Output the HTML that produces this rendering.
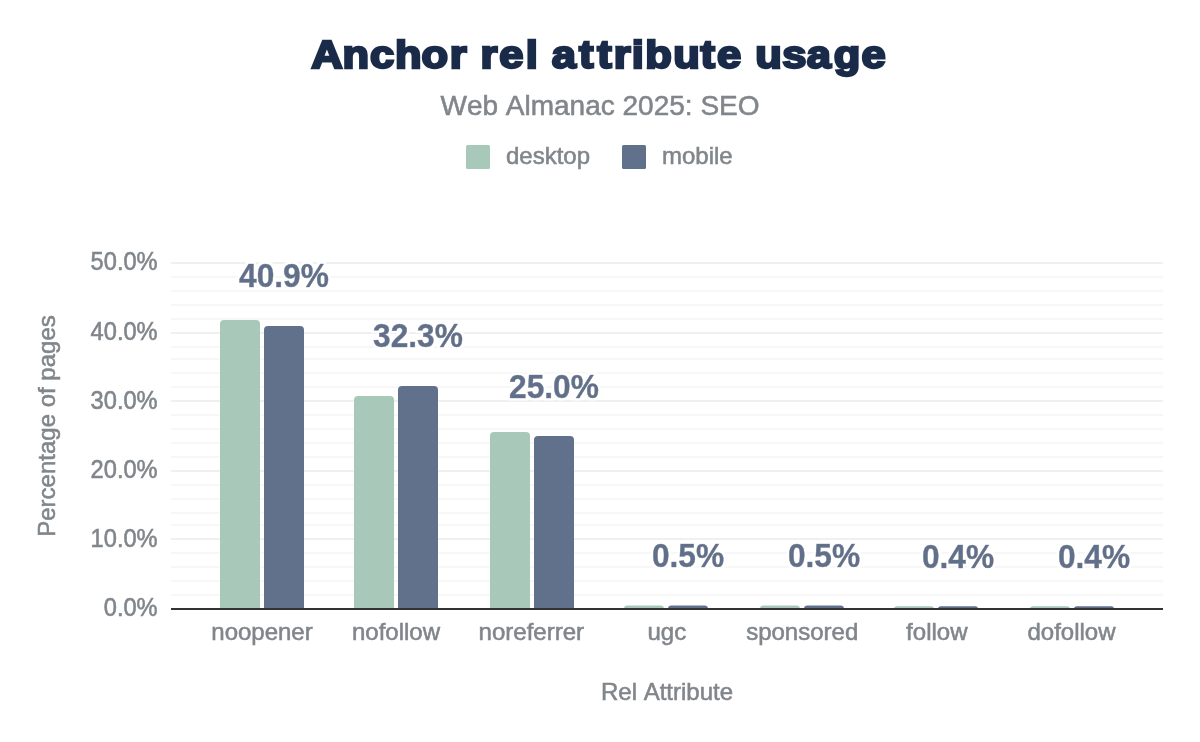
<!DOCTYPE html>
<html lang="en"><head><meta charset="utf-8"><title>Anchor rel attribute usage</title>
<style>
html,body{margin:0;padding:0;background:#fff}
body{width:1200px;height:742px;overflow:hidden}
svg{display:block}
text{font-family:"Liberation Sans",Arial,sans-serif;font-kerning:none}
.g{stroke:#80868b;stroke-width:0.55px}
</style></head><body>
<svg width="1200" height="742" viewBox="0 0 1200 742">
<defs><filter id="halo" x="-10%" y="-25%" width="120%" height="150%"><feMorphology in="SourceAlpha" operator="dilate" radius="2" result="d"/><feGaussianBlur in="d" stdDeviation="0.4" result="b"/><feFlood flood-color="#fff"/><feComposite in2="b" operator="in" result="h"/><feMerge><feMergeNode in="h"/><feMergeNode in="h"/><feMergeNode in="SourceGraphic"/></feMerge></filter></defs>
<rect width="1200" height="742" fill="#fff"/>

<rect x="171" y="262" width="992" height="2" fill="#f0f0f0"/>
<rect x="171" y="276" width="992" height="2" fill="#f7f7f7"/>
<rect x="171" y="290" width="992" height="2" fill="#f7f7f7"/>
<rect x="171" y="304" width="992" height="2" fill="#f7f7f7"/>
<rect x="171" y="318" width="992" height="2" fill="#f7f7f7"/>
<rect x="171" y="332" width="992" height="2" fill="#f0f0f0"/>
<rect x="171" y="346" width="992" height="2" fill="#f7f7f7"/>
<rect x="171" y="358" width="992" height="2" fill="#f7f7f7"/>
<rect x="171" y="372" width="992" height="2" fill="#f7f7f7"/>
<rect x="171" y="386" width="992" height="2" fill="#f7f7f7"/>
<rect x="171" y="400" width="992" height="2" fill="#f0f0f0"/>
<rect x="171" y="414" width="992" height="2" fill="#f7f7f7"/>
<rect x="171" y="428" width="992" height="2" fill="#f7f7f7"/>
<rect x="171" y="442" width="992" height="2" fill="#f7f7f7"/>
<rect x="171" y="456" width="992" height="2" fill="#f7f7f7"/>
<rect x="171" y="470" width="992" height="2" fill="#f0f0f0"/>
<rect x="171" y="484" width="992" height="2" fill="#f7f7f7"/>
<rect x="171" y="498" width="992" height="2" fill="#f7f7f7"/>
<rect x="171" y="512" width="992" height="2" fill="#f7f7f7"/>
<rect x="171" y="524" width="992" height="2" fill="#f7f7f7"/>
<rect x="171" y="538" width="992" height="2" fill="#f0f0f0"/>
<rect x="171" y="552" width="992" height="2" fill="#f7f7f7"/>
<rect x="171" y="566" width="992" height="2" fill="#f7f7f7"/>
<rect x="171" y="580" width="992" height="2" fill="#f7f7f7"/>
<rect x="171" y="594" width="992" height="2" fill="#f7f7f7"/>
<path d="M220,609.0 V324.00 Q220,320.00 224,320.00 H256 Q260,320.00 260,324.00 V609.0 Z" fill="#a8c9b9"/>
<path d="M264,609.0 V330.00 Q264,326.00 268,326.00 H300 Q304,326.00 304,330.00 V609.0 Z" fill="#61708b"/>
<path d="M354,609.0 V400.00 Q354,396.00 358,396.00 H390 Q394,396.00 394,400.00 V609.0 Z" fill="#a8c9b9"/>
<path d="M398,609.0 V390.00 Q398,386.00 402,386.00 H434 Q438,386.00 438,390.00 V609.0 Z" fill="#61708b"/>
<path d="M490,609.0 V436.00 Q490,432.00 494,432.00 H526 Q530,432.00 530,436.00 V609.0 Z" fill="#a8c9b9"/>
<path d="M534,609.0 V440.00 Q534,436.00 538,436.00 H570 Q574,436.00 574,440.00 V609.0 Z" fill="#61708b"/>
<path d="M624,609.0 V609.00 Q624,605.60 627.4,605.60 H660.6 Q664,605.60 664,609.00 V609.0 Z" fill="#a8c9b9"/>
<path d="M668,609.0 V609.00 Q668,605.60 671.4,605.60 H704.6 Q708,605.60 708,609.00 V609.0 Z" fill="#61708b"/>
<path d="M760,609.0 V609.00 Q760,605.60 763.4,605.60 H796.6 Q800,605.60 800,609.00 V609.0 Z" fill="#a8c9b9"/>
<path d="M804,609.0 V609.00 Q804,605.60 807.4,605.60 H840.6 Q844,605.60 844,609.00 V609.0 Z" fill="#61708b"/>
<path d="M894,609.0 V609.00 Q894,606.20 896.8,606.20 H931.2 Q934,606.20 934,609.00 V609.0 Z" fill="#a8c9b9"/>
<path d="M938,609.0 V609.00 Q938,606.20 940.8,606.20 H975.2 Q978,606.20 978,609.00 V609.0 Z" fill="#61708b"/>
<path d="M1030,609.0 V609.00 Q1030,606.20 1032.8,606.20 H1067.2 Q1070,606.20 1070,609.00 V609.0 Z" fill="#a8c9b9"/>
<path d="M1074,609.0 V609.00 Q1074,606.20 1076.8,606.20 H1111.2 Q1114,606.20 1114,609.00 V609.0 Z" fill="#61708b"/>
<rect x="171" y="608.0" width="992" height="2" fill="#333"/>
<text transform="translate(157.6,616.3) scale(0.985,1.05)" class="g" font-size="24" fill="#80868b" text-anchor="end">0.0%</text>
<text transform="translate(157.6,547.1) scale(0.985,1.05)" class="g" font-size="24" fill="#80868b" text-anchor="end">10.0%</text>
<text transform="translate(157.6,477.9) scale(0.985,1.05)" class="g" font-size="24" fill="#80868b" text-anchor="end">20.0%</text>
<text transform="translate(157.6,408.7) scale(0.985,1.05)" class="g" font-size="24" fill="#80868b" text-anchor="end">30.0%</text>
<text transform="translate(157.6,339.5) scale(0.985,1.05)" class="g" font-size="24" fill="#80868b" text-anchor="end">40.0%</text>
<text transform="translate(157.6,270.3) scale(0.985,1.05)" class="g" font-size="24" fill="#80868b" text-anchor="end">50.0%</text>
<text x="262" y="640.2" class="g" font-size="24" fill="#80868b" text-anchor="middle">noopener</text>
<text x="396" y="640.2" class="g" font-size="24" fill="#80868b" text-anchor="middle">nofollow</text>
<text x="531.3" y="640.2" class="g" font-size="24" fill="#80868b" text-anchor="middle">noreferrer</text>
<text x="666.8" y="640.2" class="g" font-size="24" fill="#80868b" text-anchor="middle">ugc</text>
<text x="802.2" y="640.2" class="g" font-size="24" fill="#80868b" text-anchor="middle">sponsored</text>
<text x="936.8" y="640.2" class="g" font-size="24" fill="#80868b" text-anchor="middle">follow</text>
<text x="1071.5" y="640.2" class="g" font-size="24" fill="#80868b" text-anchor="middle">dofollow</text>
<g transform="translate(284,287.3) scale(0.99,1.045)"><text filter="url(#halo)" font-size="32" font-weight="bold" fill="#61708b" stroke="#61708b" stroke-width="0.5" text-anchor="middle">40.9%</text></g>
<g transform="translate(418,346.8) scale(0.99,1.045)"><text filter="url(#halo)" font-size="32" font-weight="bold" fill="#61708b" stroke="#61708b" stroke-width="0.5" text-anchor="middle">32.3%</text></g>
<g transform="translate(554,398.3) scale(0.99,1.045)"><text filter="url(#halo)" font-size="32" font-weight="bold" fill="#61708b" stroke="#61708b" stroke-width="0.5" text-anchor="middle">25.0%</text></g>
<g transform="translate(688,566.8) scale(0.99,1.045)"><text filter="url(#halo)" font-size="32" font-weight="bold" fill="#61708b" stroke="#61708b" stroke-width="0.5" text-anchor="middle">0.5%</text></g>
<g transform="translate(824,566.8) scale(0.99,1.045)"><text filter="url(#halo)" font-size="32" font-weight="bold" fill="#61708b" stroke="#61708b" stroke-width="0.5" text-anchor="middle">0.5%</text></g>
<g transform="translate(958,567.5) scale(0.99,1.045)"><text filter="url(#halo)" font-size="32" font-weight="bold" fill="#61708b" stroke="#61708b" stroke-width="0.5" text-anchor="middle">0.4%</text></g>
<g transform="translate(1094,567.5) scale(0.99,1.045)"><text filter="url(#halo)" font-size="32" font-weight="bold" fill="#61708b" stroke="#61708b" stroke-width="0.5" text-anchor="middle">0.4%</text></g>
<text x="667" y="700" class="g" font-size="24" fill="#80868b" text-anchor="middle">Rel Attribute</text>
<text transform="translate(55.2,426) rotate(-90)" class="g" font-size="24" fill="#80868b" text-anchor="middle">Percentage of pages</text>
<rect x="466" y="145" width="24" height="24" rx="1.5" fill="#a8c9b9"/>
<text x="506" y="163.7" class="g" font-size="24" fill="#80868b">desktop</text>
<rect x="622" y="145" width="24" height="24" rx="1.5" fill="#61708b"/>
<text x="662" y="163.7" class="g" font-size="24" fill="#80868b">mobile</text>
<text x="600" y="114.5" class="g" font-size="28" fill="#80868b" text-anchor="middle">Web Almanac 2025: SEO</text>
<text transform="translate(0,68.3) scale(1.13,1)" x="275.51 303.21 327.34 349.51 372.93 398.08 417.70 425.25 441.88 465.27 479.65 488.25 512.39 528.59 543.17 559.18 571.08 595.75 620.01 634.47 661.50 668.41 692.22 714.01 737.92 762.32" y="0" font-size="38.5" font-weight="bold" fill="#1a2b49" stroke="#1a2b49" stroke-width="2.4" stroke-linejoin="miter" stroke-miterlimit="3">Anchor rel attribute usage</text>
</svg></body></html>
